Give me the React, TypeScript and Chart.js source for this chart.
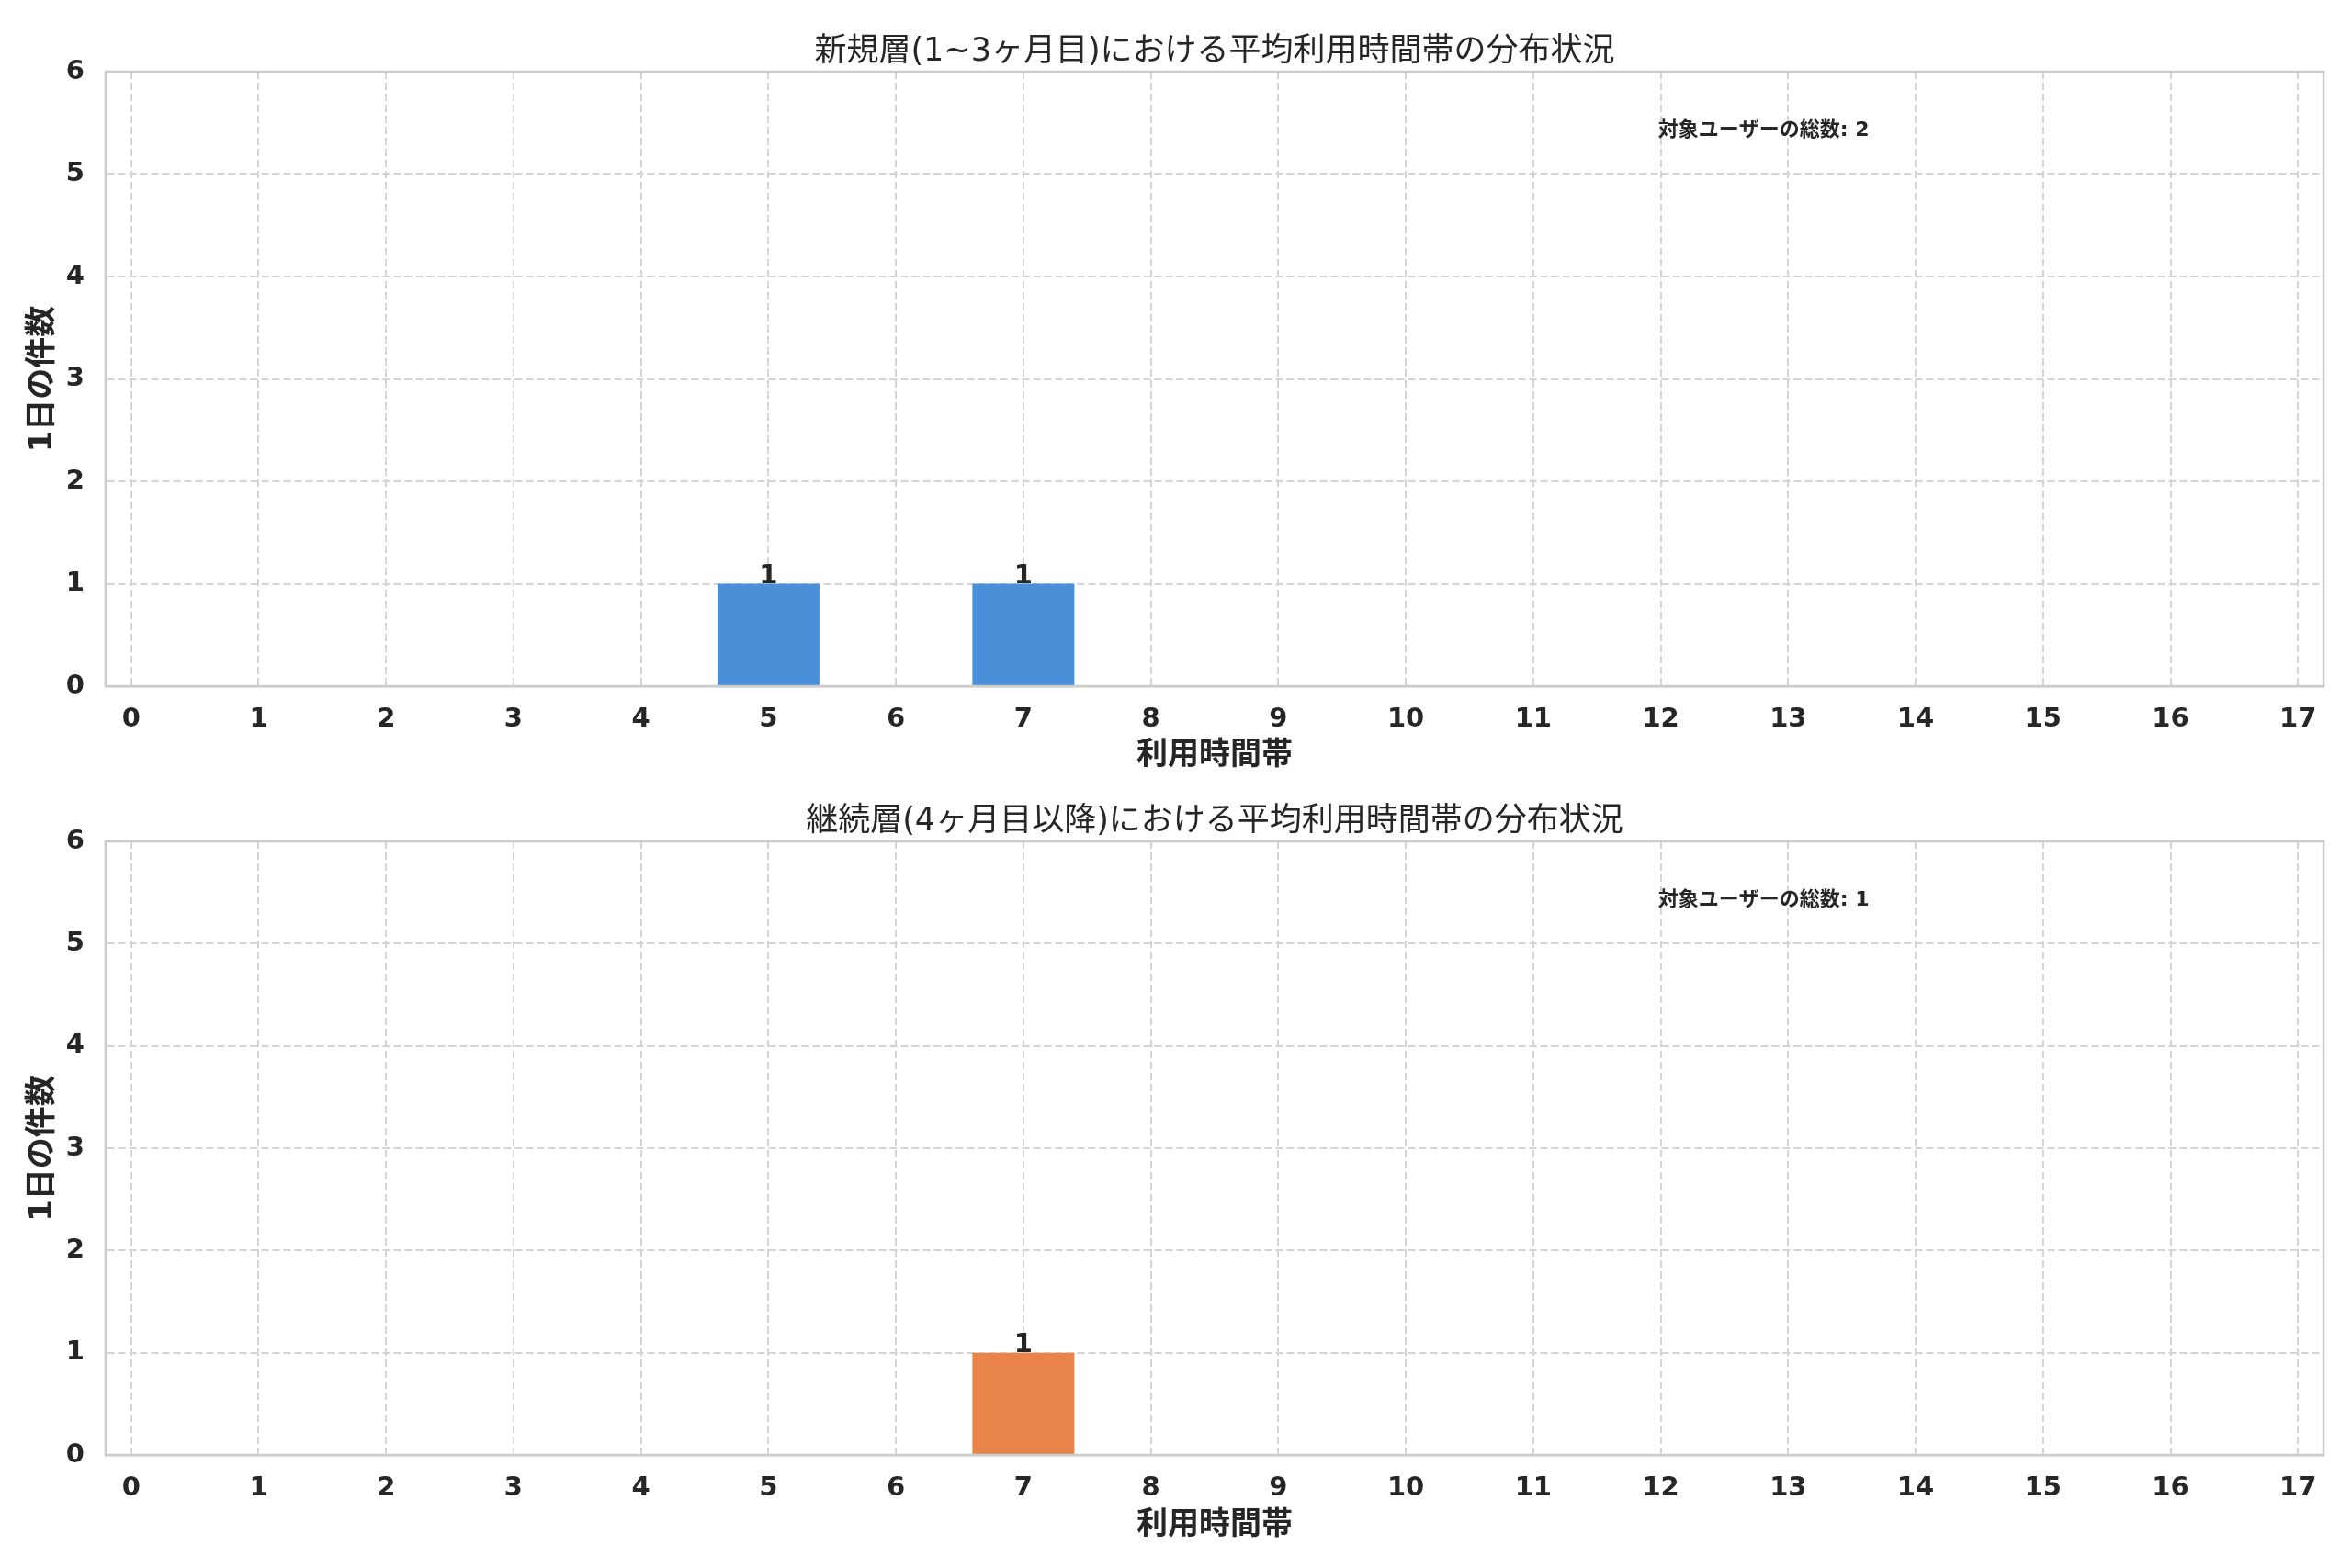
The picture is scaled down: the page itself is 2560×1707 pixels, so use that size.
import { useEffect, useRef } from "react";
import { Chart, registerables } from "chart.js";

Chart.register(...registerables);

const FONT = "'DejaVu Sans', 'Noto Sans CJK JP', sans-serif";
const INK = "#262626";
const GRID = "#d4d4d4";
const SPINE = "#cccccc";

// x categories (0..17) and counts per category
const HOURS = [0, 1, 2, 3, 4, 5, 6, 7, 8, 9, 10, 11, 12, 13, 14, 15, 16, 17];
const EARLY_COUNTS = [0, 0, 0, 0, 0, 1, 0, 1, 0, 0, 0, 0, 0, 0, 0, 0, 0, 0];
const LATE_COUNTS = [0, 0, 0, 0, 0, 0, 0, 1, 0, 0, 0, 0, 0, 0, 0, 0, 0, 0];
const Y_TICKS = [0, 1, 2, 3, 4, 5, 6];

const EARLY_TITLE = "新規層(1~3ヶ月目)における平均利用時間帯の分布状況";
const LATE_TITLE = "継続層(4ヶ月目以降)における平均利用時間帯の分布状況";
const X_LABEL = "利用時間帯";
const Y_LABEL = "1日の件数";
const TOTAL_LABEL = "対象ユーザーの総数";

const EARLY_COLOR = "#4A90D9";
const LATE_COLOR = "#E8834A";

// spines, value labels, total note and title
const decor = {
  id: "decor",
  afterDatasetsDraw(chart: any, _args: any, opts: any) {
    const { ctx, chartArea: a } = chart;
    ctx.save();
    ctx.strokeStyle = SPINE;
    ctx.lineWidth = 2.5;
    ctx.strokeRect(a.left, a.top, a.right - a.left, a.bottom - a.top);

    ctx.fillStyle = INK;
    ctx.font = `bold 29px ${FONT}`;
    ctx.textAlign = "center";
    ctx.textBaseline = "alphabetic";
    const meta = chart.getDatasetMeta(0);
    meta.data.forEach((bar: any, i: number) => {
      const v = opts.counts[i];
      if (!v) return;
      ctx.fillText(String(v), bar.x, bar.y - 1);
    });

    const total = opts.counts.reduce((s: number, v: number) => s + v, 0);
    ctx.font = `bold 22px ${FONT}`;
    ctx.textAlign = "left";
    ctx.fillText(
      `${TOTAL_LABEL}: ${total}`,
      a.left + 0.7 * (a.right - a.left),
      a.top + 0.105 * (a.bottom - a.top)
    );

    ctx.font = `35px ${FONT}`;
    ctx.textAlign = "center";
    ctx.fillText(opts.title, (a.left + a.right) / 2, opts.titleBaseline);
    ctx.restore();
  },
};

interface PanelProps {
  top: number;
  height: number;
  counts: number[];
  color: string;
  title: string;
  titleBaseline: number;
  padTop: number;
  xAxisHeight: number;
  xTitlePad: number;
}

function Panel({ top, height, counts, color, title, titleBaseline, padTop, xAxisHeight, xTitlePad }: PanelProps) {
  const canvasRef = useRef<HTMLCanvasElement>(null);

  useEffect(() => {
    if (!canvasRef.current) return;
    const tickFont = { family: FONT, size: 29, weight: "bold" as const };
    const labelFont = { family: FONT, size: 34, weight: "bold" as const };

    const chart = new Chart(canvasRef.current, {
      type: "bar",
      data: {
        datasets: [{
          data: HOURS.map((h, i) => ({ x: h, y: counts[i] })),
          backgroundColor: color,
          borderWidth: 0,
          barPercentage: 0.8,
          categoryPercentage: 1,
        }],
      },
      options: {
        animation: false,
        responsive: false,
        layout: { padding: { top: padTop, right: 31, left: 0, bottom: 0 } },
        plugins: {
          legend: { display: false },
          tooltip: { enabled: false },
          decor: { counts, title, titleBaseline },
        } as any,
        scales: {
          x: {
            type: "linear",
            min: -0.2,
            max: 17.2,
            offset: false,
            afterBuildTicks: (s: any) => { s.ticks = HOURS.map(v => ({ value: v })); },
            afterFit: (s: any) => { s.height = xAxisHeight; },
            grid: { color: GRID, lineWidth: 2, drawTicks: false, offset: false },
            border: { display: true, color: SPINE, width: 2.5, dash: [8, 4] },
            ticks: { color: INK, font: tickFont, padding: 19, autoSkip: false, maxRotation: 0 },
            title: { display: true, text: X_LABEL, color: INK, font: labelFont, padding: { top: 0, bottom: xTitlePad } },
          },
          y: {
            min: 0,
            max: 6,
            afterBuildTicks: (s: any) => { s.ticks = Y_TICKS.map(v => ({ value: v })); },
            afterFit: (s: any) => { s.width = 115; },
            grid: { color: GRID, lineWidth: 2, drawTicks: false },
            border: { display: true, color: SPINE, width: 2.5, dash: [8, 4] },
            ticks: { color: INK, font: tickFont, padding: 23 },
            title: { display: true, text: Y_LABEL, color: INK, font: labelFont, padding: { top: 26.6, bottom: 0 } },
          },
        },
      },
      plugins: [decor],
    });

    return () => { chart.destroy(); };
  }, [counts, color, title, titleBaseline, padTop, xAxisHeight, xTitlePad]);

  return (
    <canvas
      ref={canvasRef}
      width={2560}
      height={height}
      style={{ position: "absolute", left: 0, top, width: 2560, height }}
    />
  );
}

export default function App() {
  return (
    <div style={{ position: "absolute", left: 0, top: 0, width: 2560, height: 1707, background: "#ffffff" }}>
      <Panel top={0} height={860} counts={EARLY_COUNTS} color={EARLY_COLOR} title={EARLY_TITLE}
        titleBaseline={66} padTop={78} xAxisHeight={113} xTitlePad={16} />
      <Panel top={860} height={847} counts={LATE_COUNTS} color={LATE_COLOR} title={LATE_TITLE}
        titleBaseline={44} padTop={56} xAxisHeight={123} xTitlePad={25} />
    </div>
  );
}
